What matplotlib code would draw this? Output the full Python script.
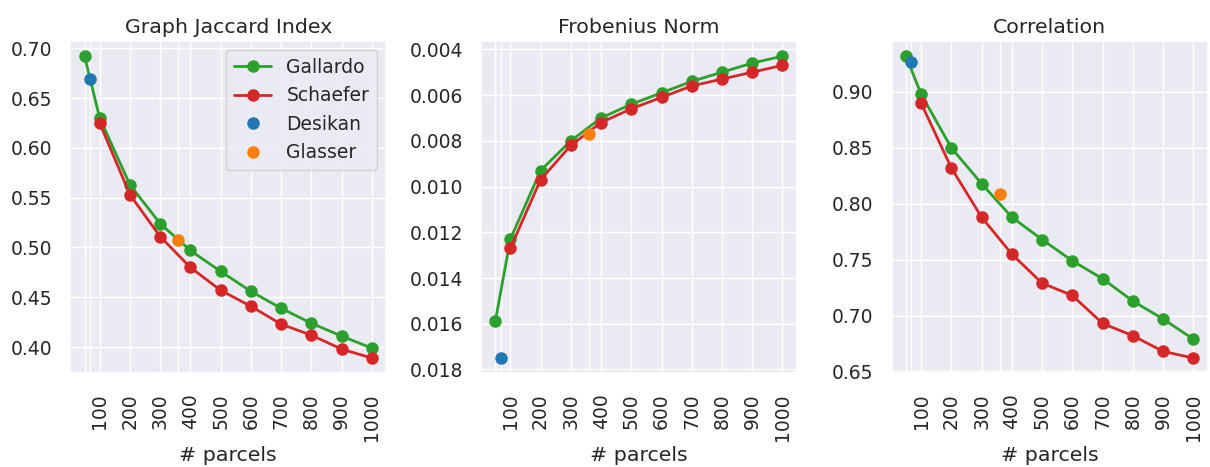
import matplotlib
matplotlib.use("Agg")
import matplotlib.pyplot as plt
import seaborn as sns

# number of parcels
gallardo_x = [50, 100, 200, 300, 400, 500, 600, 700, 800, 900, 1000]
schaefer_x = [100, 200, 300, 400, 500, 600, 700, 800, 900, 1000]
desikan_x = [68]
glasser_x = [360]

titles = ["Graph Jaccard Index", "Frobenius Norm", "Correlation"]

gallardo_vals = [
    [0.692, 0.630, 0.563, 0.524, 0.497, 0.476, 0.456, 0.439, 0.424, 0.411, 0.399],
    [0.0159, 0.0123, 0.0093, 0.0080, 0.0070, 0.0064, 0.0059, 0.0054, 0.0050, 0.0046, 0.0043],
    [0.932, 0.898, 0.850, 0.818, 0.788, 0.768, 0.749, 0.733, 0.713, 0.697, 0.679],
]
schaefer_vals = [
    [0.625, 0.553, 0.511, 0.480, 0.457, 0.441, 0.423, 0.412, 0.398, 0.389],
    [0.0127, 0.0097, 0.0082, 0.0072, 0.0066, 0.0061, 0.0056, 0.0053, 0.0050, 0.0047],
    [0.890, 0.832, 0.788, 0.755, 0.729, 0.718, 0.693, 0.682, 0.668, 0.662],
]
desikan_vals = [0.669, 0.0175, 0.927]
glasser_vals = [0.507, 0.0077, 0.809]

sns.set_theme(style="darkgrid", font_scale=1.23)
plt.rcParams.update({
    "xtick.major.size": 0, "ytick.major.size": 0,
    "xtick.major.pad": 14.4, "ytick.major.pad": 13,
    "axes.titlepad": 6,
})

fig, axes = plt.subplots(1, 3, figsize=(12.1, 4.67), dpi=100)
fig.subplots_adjust(left=0.058, right=0.998, top=0.912, bottom=0.201, wspace=0.30)

all_x = sorted(set(gallardo_x + schaefer_x + desikan_x + glasser_x))
tick_labels = [str(x) if x in schaefer_x else "" for x in all_x]

for i, ax in enumerate(axes):
    ax.plot(gallardo_x, gallardo_vals[i], "o-", color="tab:green", ms=8, lw=2, label="Gallardo")
    ax.plot(schaefer_x, schaefer_vals[i], "o-", color="tab:red", ms=8, lw=2, label="Schaefer")
    ax.plot(desikan_x, [desikan_vals[i]], "o", color="tab:blue", ms=8, label="Desikan")
    ax.plot(glasser_x, [glasser_vals[i]], "o", color="tab:orange", ms=8, label="Glasser")
    ax.set_xticks(all_x)
    ax.set_xticklabels(tick_labels, rotation=90)
    ax.set_xlabel("# parcels")
    ax.set_title(titles[i])

axes[1].invert_yaxis()
axes[0].legend(loc="upper right")

plt.savefig("out.png", dpi=100)
